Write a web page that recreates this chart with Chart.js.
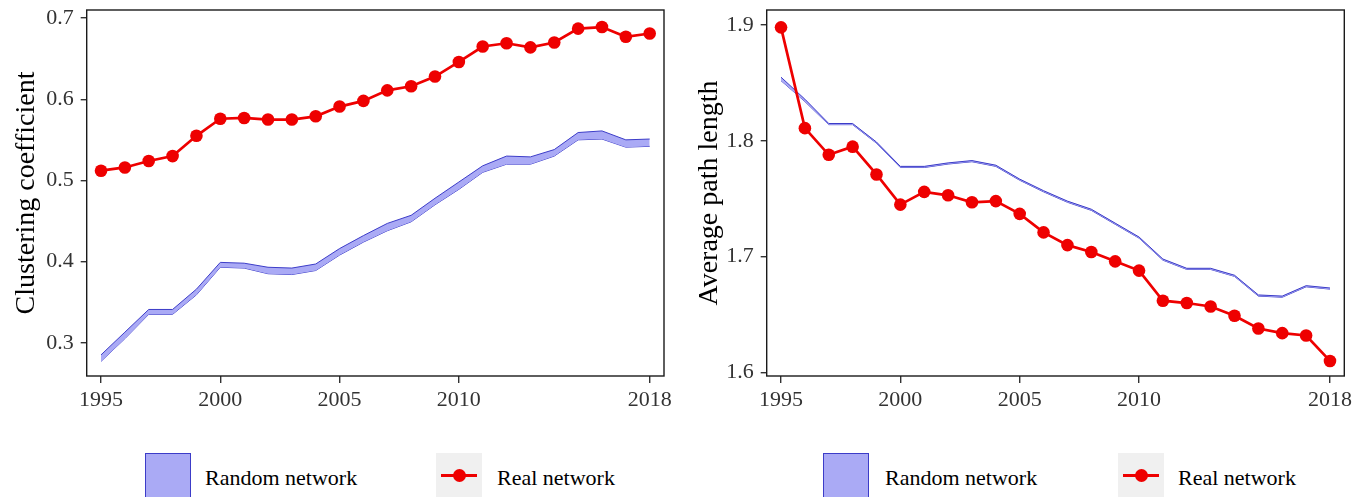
<!DOCTYPE html>
<html>
<head>
<meta charset="utf-8">
<script src="https://cdn.jsdelivr.net/npm/chart.js@4.4.1/dist/chart.umd.min.js"></script>
<style>
    body { margin: 0; background: #fff; width: 1366px; height: 497px; overflow: hidden; position: relative;
           font-family: "Liberation Serif", "Times New Roman", serif; }
    .panel { position: absolute; top: 0; width: 683px; height: 416px; }
    .key { position: absolute; top: 453px; width: 46px; height: 46px; box-sizing: border-box; }
    .key.band { background: #aaaaf5; border: 1px solid #3c3cc8; }
    .key.dot { background: #f0f0f0; }
    .key.dot .line { position: absolute; left: 5px; right: 5px; top: 21px; height: 3px; background: #ee0000; }
    .key.dot .pt { position: absolute; left: 17px; top: 16px; width: 13px; height: 13px; border-radius: 50%; background: #ee0000; }
    .lbl { position: absolute; top: 464px; font-size: 22px; line-height: 28px; color: #000; white-space: nowrap; }
</style>
</head>
<body>
<div class="panel" style="left:0"><canvas id="clustChart" width="683" height="416"></canvas></div>
<div class="panel" style="left:683px"><canvas id="pathChart" width="683" height="416"></canvas></div>

<div class="key band" style="left:145px"></div>
<div class="lbl" style="left:205px">Random network</div>
<div class="key dot" style="left:436px"><div class="line"></div><div class="pt"></div></div>
<div class="lbl" style="left:497px">Real network</div>

<div class="key band" style="left:823px"></div>
<div class="lbl" style="left:885px">Random network</div>
<div class="key dot" style="left:1118px"><div class="line"></div><div class="pt"></div></div>
<div class="lbl" style="left:1178px">Real network</div>

<script>
const years = [1995, 1996, 1997, 1998, 1999, 2000, 2001, 2002, 2003, 2004, 2005, 2006,
               2007, 2008, 2009, 2010, 2011, 2012, 2013, 2014, 2015, 2016, 2017, 2018];
const yearTicks = [1995, 2000, 2005, 2010, 2018];

const clustReal = [0.512, 0.516, 0.524, 0.530, 0.555, 0.576, 0.577, 0.575, 0.575, 0.579, 0.591, 0.598,
                   0.611, 0.616, 0.628, 0.646, 0.665, 0.669, 0.664, 0.670, 0.687, 0.689, 0.677, 0.681];
const clustRandHi = [0.285, 0.313, 0.341, 0.341, 0.366, 0.399, 0.398, 0.393, 0.392, 0.397, 0.416, 0.432,
                     0.447, 0.457, 0.478, 0.498, 0.518, 0.530, 0.529, 0.538, 0.559, 0.561, 0.550, 0.551];
const clustRandLo = [0.277, 0.305, 0.335, 0.335, 0.359, 0.393, 0.392, 0.385, 0.384, 0.389, 0.408, 0.424,
                     0.438, 0.449, 0.470, 0.489, 0.510, 0.520, 0.520, 0.530, 0.550, 0.551, 0.541, 0.542];
const clustTicks = [0.3, 0.4, 0.5, 0.6, 0.7];

const pathReal = [1.898, 1.811, 1.788, 1.795, 1.771, 1.745, 1.756, 1.753, 1.747, 1.748, 1.737, 1.721,
                  1.710, 1.704, 1.696, 1.688, 1.662, 1.660, 1.657, 1.649, 1.638, 1.634, 1.632, 1.610];
const pathRandHi = [1.855, 1.836, 1.815, 1.815, 1.799, 1.778, 1.778, 1.781, 1.783, 1.779, 1.767, 1.757,
                    1.748, 1.741, 1.729, 1.717, 1.698, 1.690, 1.690, 1.684, 1.667, 1.666, 1.675, 1.673];
const pathRandLo = [1.852, 1.834, 1.814, 1.814, 1.798, 1.777, 1.777, 1.780, 1.782, 1.778, 1.766, 1.756,
                    1.747, 1.740, 1.728, 1.716, 1.697, 1.689, 1.689, 1.683, 1.666, 1.665, 1.674, 1.672];
const pathTicks = [1.6, 1.7, 1.8, 1.9];

const serif = '"Liberation Serif", "Times New Roman", serif';
const red = '#ee0000';
const blue = '#3c3cc8';
const lavender = '#aaaaf5';

// panel border drawn all round, like a ggplot panel.border
const framePlugin = {
    id: 'frame',
    afterDatasetsDraw(chart) {
        let ctx = chart.ctx;
        let a = chart.chartArea;
        ctx.save();
        ctx.strokeStyle = '#1a1a1a';
        ctx.lineWidth = 1.4;
        ctx.strokeRect(a.left, a.top, a.right - a.left, a.bottom - a.top);
        ctx.restore();
    }
};

function pairs(values) {
    return years.map((y, i) => ({ x: y, y: values[i] }));
}

function buildChart(id, cfg) {
    let ctx = document.getElementById(id).getContext('2d');
    return new Chart(ctx, {
        type: 'line',
        data: {
            datasets: [{
                label: 'Real network',
                data: pairs(cfg.real),
                borderColor: red,
                backgroundColor: red,
                borderWidth: 2.7,
                pointRadius: 6.3,
                pointHoverRadius: 6.3,
                pointBorderWidth: 0,
                fill: false,
                order: 0
            }, {
                label: 'Random network',
                data: pairs(cfg.hi),
                borderColor: blue,
                backgroundColor: lavender,
                borderWidth: 1,
                pointRadius: 0,
                fill: '+1',
                order: 1
            }, {
                label: 'Random network (low)',
                data: pairs(cfg.lo),
                borderColor: blue,
                borderWidth: 1,
                pointRadius: 0,
                fill: false,
                order: 2
            }]
        },
        options: {
            responsive: false,
            animation: false,
            devicePixelRatio: 1,
            layout: { padding: { top: 10, right: cfg.padRight, left: 0, bottom: 0 } },
            plugins: { legend: { display: false }, tooltip: { enabled: false } },
            scales: {
                x: {
                    type: 'linear',
                    min: 1994.4,
                    max: 2018.6,
                    afterBuildTicks: s => { s.ticks = yearTicks.map(v => ({ value: v })); },
                    afterFit: s => { s.height = 40; s.paddingLeft = 0; s.paddingRight = 0; },
                    ticks: {
                        callback: v => String(v),
                        font: { family: serif, size: 22 },
                        color: '#333',
                        padding: 4,
                        maxRotation: 0,
                        autoSkip: false
                    },
                    grid: { drawOnChartArea: false, tickLength: 7, color: '#333', lineWidth: 1.4 },
                    border: { display: false }
                },
                y: {
                    min: cfg.yMin,
                    max: cfg.yMax,
                    afterBuildTicks: s => { s.ticks = cfg.yTicks.map(v => ({ value: v })); },
                    afterFit: s => { s.width = cfg.axisWidth; s.paddingTop = 0; s.paddingBottom = 0; },
                    ticks: {
                        callback: v => v.toFixed(1),
                        font: { family: serif, size: 22 },
                        color: '#333',
                        padding: 7
                    },
                    grid: { drawOnChartArea: false, tickLength: 6, color: '#333', lineWidth: 1.4 },
                    border: { display: false },
                    title: {
                        display: true,
                        text: cfg.title,
                        color: '#000',
                        font: { family: serif, size: 28 },
                        padding: { top: 10, bottom: 0 }
                    }
                }
            }
        },
        plugins: [framePlugin]
    });
}

buildChart('clustChart', {
    real: clustReal, hi: clustRandHi, lo: clustRandLo,
    yMin: 0.259, yMax: 0.710, yTicks: clustTicks,
    title: 'Clustering coefficient', axisWidth: 86.7, padRight: 19
});

buildChart('pathChart', {
    real: pathReal, hi: pathRandHi, lo: pathRandLo,
    yMin: 1.597, yMax: 1.913, yTicks: pathTicks,
    title: 'Average path length', axisWidth: 83.7, padRight: 21.7
});
</script>
</body>
</html>
